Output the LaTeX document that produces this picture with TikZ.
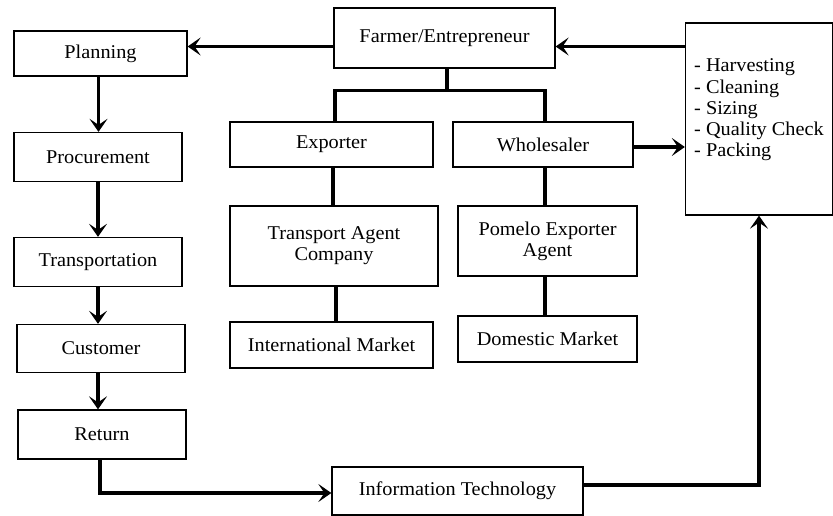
\documentclass[tikz,border=0pt]{standalone}
\usepackage{fontspec}
\setmainfont[FakeStretch=1.04]{Liberation Serif}
\usetikzlibrary{arrows.meta,calc}
\begin{document}
\begin{tikzpicture}[x=1pt,y=-1pt,
  box/.style={draw, line width=1.3pt, inner sep=0pt, align=center,
    font=\fontsize{19.5}{21}\selectfont},
  conn/.style={line width=3.5pt},
  arr/.style={line width=3.5pt, -{Stealth[length=13pt,width=18pt,inset=6pt]}}]
\useasboundingbox (0,0) rectangle (833,516);
% left chain
\node[box, minimum width=173, minimum height=45] (planning) at (100.5,53.5) {Planning};
\node[box, minimum width=168, minimum height=49] (procurement) at (98,157) {Procurement};
\node[box, minimum width=168, minimum height=49] (transportation) at (98,262) {Transportation};
\node[box, minimum width=168, minimum height=48] (customer) at (101,348.5) {Customer};
\node[box, minimum width=168, minimum height=49] (return) at (102,434.5) {Return};
% top and middle
\node[box, minimum width=221, minimum height=60] (farmer) at (444.5,38) {Farmer/Entrepreneur};
\node[box, minimum width=203, minimum height=45] (exporter) at (331.5,144.5) {Exporter};
\node[box, minimum width=180, minimum height=45] (wholesaler) at (543,144.5) {Wholesaler};
\node[box, minimum width=208, minimum height=80] (transport) at (334,246) {Transport Agent\\Company};
\node[box, minimum width=179, minimum height=70] (pomelo) at (547.5,241) {Pomelo Exporter\\Agent};
\node[box, minimum width=203, minimum height=46] (intl) at (331.5,345) {International Market};
\node[box, minimum width=179, minimum height=46] (domestic) at (547.5,339) {Domestic Market};
\node[box, minimum width=251, minimum height=48] (it) at (457.5,491) {Information Technology};
% right box
\node[box, minimum width=147, minimum height=192] (proc) at (759,119) {};
\node[inner sep=0pt, align=left, anchor=west, font=\fontsize{19.5}{21.3}\selectfont]
  (proctext) at (694,110) {- Harvesting\\- Cleaning\\- Sizing\\- Quality Check\\- Packing};
% horizontal arrows at top
\coordinate (ytop) at ($(farmer.west)+(0,8.5)$);
\draw[arr] (ytop) -- (ytop -| planning.east);
\draw[arr] (proc.west |- ytop) -- (ytop -| farmer.east);
\draw[arr] ($(wholesaler.east)+(0,2.5)$) -- ($(wholesaler.east -| proc.west)+(0,2.5)$);
% tree
\coordinate (j) at ($(farmer.south)+(2.5,22)$);
\draw[conn] ([xshift=2.5pt]farmer.south) -- (j);
\draw[conn] ([xshift=3.5pt]exporter.north) |- (j) -| ([xshift=2pt]wholesaler.north);
\draw[conn] ([xshift=1.5pt]exporter.south) -- ([xshift=1.5pt]exporter.south |- transport.north);
\draw[conn] ([xshift=2pt]transport.south) -- ([xshift=2pt]transport.south |- intl.north);
\draw[conn] ([xshift=2pt]wholesaler.south) -- ([xshift=2pt]wholesaler.south |- pomelo.north);
\draw[conn] ([xshift=-2.5pt]pomelo.south) -- ([xshift=-2.5pt]pomelo.south |- domestic.north);
% left chain arrows
\draw[arr] ([xshift=-2pt]planning.south) -- ([xshift=-2pt]planning.south |- procurement.north);
\draw[arr] (procurement.south) -- (procurement.south |- transportation.north);
\draw[arr] (transportation.south) -- (transportation.south |- customer.north);
\draw[arr] ([xshift=-3pt]customer.south) -- ([xshift=-3pt]customer.south |- return.north);
% bottom loop
\draw[arr] ([xshift=-2pt]return.south) |- ($(it.west)+(0,2)$);
\draw[arr] ($(it.east)+(0,-6)$) -| (proc.south);
\end{tikzpicture}
\end{document}
